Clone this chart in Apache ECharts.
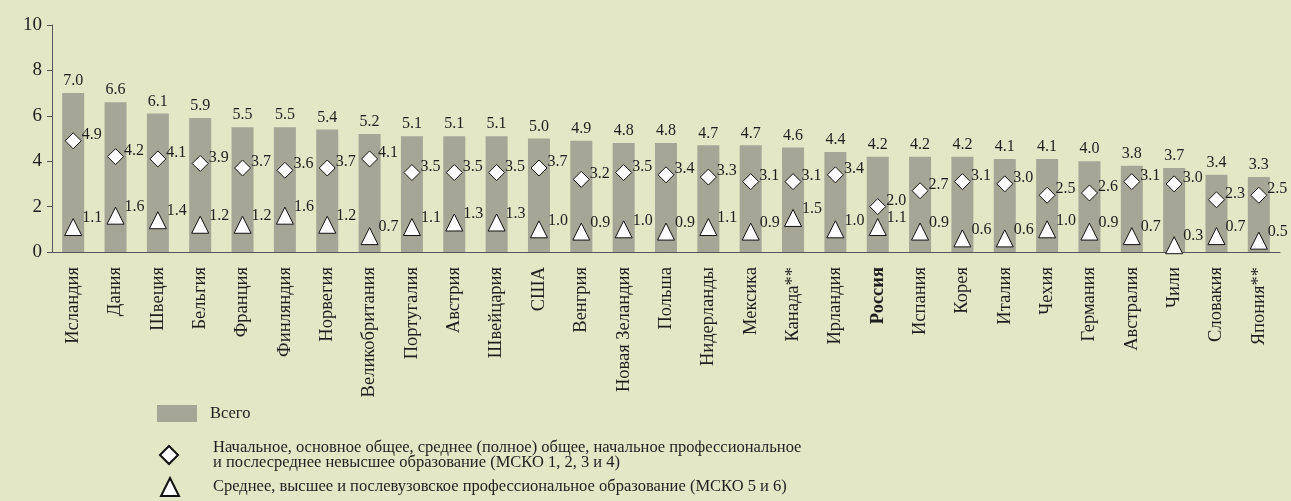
<!DOCTYPE html>
<html>
<head>
<meta charset="utf-8">
<script src="https://cdn.jsdelivr.net/npm/echarts@6/dist/echarts.min.js"></script>
<style>
  html, body { margin: 0; padding: 0; background: #E3E7C6; }
  #chart { width: 1291px; height: 501px; }
</style>
</head>
<body>
<div id="chart"></div>
<script>
var countries = ['Исландия', 'Дания', 'Швеция', 'Бельгия', 'Франция', 'Финляндия', 'Норвегия',
    'Великобритания', 'Португалия', 'Австрия', 'Швейцария', 'США', 'Венгрия', 'Новая Зеландия',
    'Польша', 'Нидерланды', 'Мексика', 'Канада**', 'Ирландия', 'Россия', 'Испания', 'Корея',
    'Италия', 'Чехия', 'Германия', 'Австралия', 'Чили', 'Словакия', 'Япония**'];

var total = [7.0, 6.6, 6.1, 5.9, 5.5, 5.5, 5.4, 5.2, 5.1, 5.1, 5.1, 5.0, 4.9, 4.8, 4.8,
    4.7, 4.7, 4.6, 4.4, 4.2, 4.2, 4.2, 4.1, 4.1, 4.0, 3.8, 3.7, 3.4, 3.3];

// МСКО 1-4
var isced14 = [4.9, 4.2, 4.1, 3.9, 3.7, 3.6, 3.7, 4.1, 3.5, 3.5, 3.5, 3.7, 3.2, 3.5, 3.4,
    3.3, 3.1, 3.1, 3.4, 2.0, 2.7, 3.1, 3.0, 2.5, 2.6, 3.1, 3.0, 2.3, 2.5];

// МСКО 5-6
var isced56 = [1.1, 1.6, 1.4, 1.2, 1.2, 1.6, 1.2, 0.7, 1.1, 1.3, 1.3, 1.0, 0.9, 1.0, 0.9,
    1.1, 0.9, 1.5, 1.0, 1.1, 0.9, 0.6, 0.6, 1.0, 0.9, 0.7, 0.3, 0.7, 0.5];

var legendNames = {
    'Всего': 'Всего',
    'isced14': 'Начальное, основное общее, среднее (полное) общее, начальное профессиональное\nи послесреднее невысшее образование (МСКО 1, 2, 3 и 4)',
    'isced56': 'Среднее, высшее и послевузовское профессиональное образование (МСКО 5 и 6)'
};

var font = 'Liberation Serif';
var textColor = '#1e1e1e';
var axisColor = '#555555';

function fmt(p) { return p.value.toFixed(1); }
function legendFmt(n) { return legendNames[n]; }

var chart = echarts.init(document.getElementById('chart'));
chart.setOption({
    backgroundColor: '#E3E7C6',
    animation: false,
    grid: { left: 52, right: 11, top: 25, bottom: 249 },
    legend: [{
        data: [{ name: 'Всего', icon: 'rect' }],
        left: 157, top: 405, padding: 0,
        itemWidth: 40, itemHeight: 17,
        formatter: legendFmt,
        textStyle: { fontFamily: font, fontSize: 16.5, lineHeight: 15, color: textColor, padding: [0, 0, 0, 8] }
    }, {
        data: ['isced14'],
        left: 159, top: 437, padding: 0,
        itemWidth: 18, itemHeight: 18,
        formatter: legendFmt,
        textStyle: { fontFamily: font, fontSize: 16.5, lineHeight: 15, color: textColor, padding: [6, 0, 0, 30] }
    }, {
        data: ['isced56'],
        left: 160, top: 477, padding: 0,
        itemWidth: 18, itemHeight: 18,
        formatter: legendFmt,
        textStyle: { fontFamily: font, fontSize: 16.5, lineHeight: 15, color: textColor, padding: [0, 0, 0, 29] }
    }],
    xAxis: {
        type: 'category',
        data: countries,
        axisLine: { lineStyle: { color: axisColor, width: 1 } },
        axisTick: { length: 5, lineStyle: { color: axisColor } },
        axisLabel: {
            rotate: 90,
            interval: 0,
            margin: 15,
            fontFamily: font,
            fontSize: 18.5,
            color: textColor,
            formatter: function (v) { return v === 'Россия' ? '{b|' + v + '}' : v; },
            rich: {
                b: { fontFamily: font, fontSize: 18.5, fontWeight: 'bold', color: textColor }
            }
        }
    },
    yAxis: {
        type: 'value',
        min: 0, max: 10, interval: 2,
        axisLine: { show: true, lineStyle: { color: axisColor, width: 1 } },
        axisTick: { show: true, length: 5, lineStyle: { color: axisColor } },
        splitLine: { show: false },
        axisLabel: { margin: 10, fontFamily: font, fontSize: 19, color: textColor }
    },
    series: [{
        name: 'Всего',
        type: 'bar',
        data: total,
        barWidth: 22,
        itemStyle: { color: '#A6A696' },
        label: {
            show: true, position: 'top', distance: 4,
            formatter: fmt,
            fontFamily: font, fontSize: 16, color: textColor
        }
    }, {
        name: 'isced14',
        type: 'scatter',
        data: isced14,
        symbol: 'diamond',
        symbolSize: 16,
        itemStyle: { color: '#ffffff', borderColor: '#111111', borderWidth: 1, opacity: 1 },
        label: {
            show: true, position: 'right', distance: 0, offset: [0, -6],
            formatter: fmt,
            fontFamily: font, fontSize: 16, color: textColor
        },
        z: 3
    }, {
        name: 'isced56',
        type: 'scatter',
        data: isced56,
        symbol: 'triangle',
        symbolSize: 17,
        itemStyle: { color: '#ffffff', borderColor: '#111111', borderWidth: 1, opacity: 1 },
        label: {
            show: true, position: 'right', distance: 0, offset: [0, -9],
            formatter: fmt,
            fontFamily: font, fontSize: 16, color: textColor
        },
        z: 3
    }]
});
</script>
</body>
</html>
